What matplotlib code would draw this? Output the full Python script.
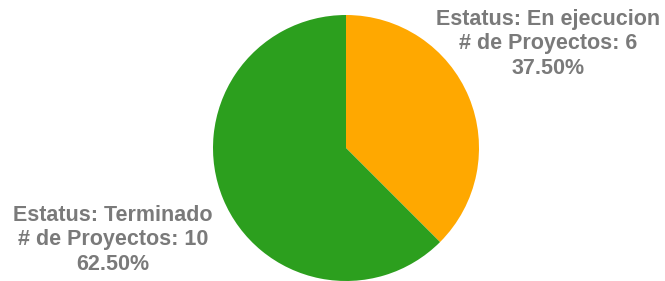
import matplotlib
matplotlib.use('Agg')
import matplotlib.pyplot as plt

estatus = ['En ejecucion', 'Terminado']
proyectos = [6, 10]
colores = ['#ffa800', '#2c9f1e']

W, H = 665, 281
fig = plt.figure(figsize=(W / 100, H / 100), dpi=100)
cx, cy, r = 346, 133, 133
ax = fig.add_axes([(cx - r) / W, (cy - r) / H, 2 * r / W, 2 * r / H])
ax.pie(proyectos, colors=colores, startangle=90, counterclock=False, radius=1)
ax.set_xlim(-1, 1)
ax.set_ylim(-1, 1)
ax.axis('off')

total = sum(proyectos)
pos = [(548, 44), (113, 240)]
for (x, y), e, n in zip(pos, estatus, proyectos):
    txt = 'Estatus: %s\n# de Proyectos: %d\n%.2f%%' % (e, n, 100 * n / total)
    fig.text(x / W, 1 - y / H, txt, ha='center', va='center', fontsize=15.5,
             fontweight='bold', color='#7a7a7a', family='Liberation Sans',
             linespacing=1.2, multialignment='center')

fig.savefig('out.png', dpi=100)
